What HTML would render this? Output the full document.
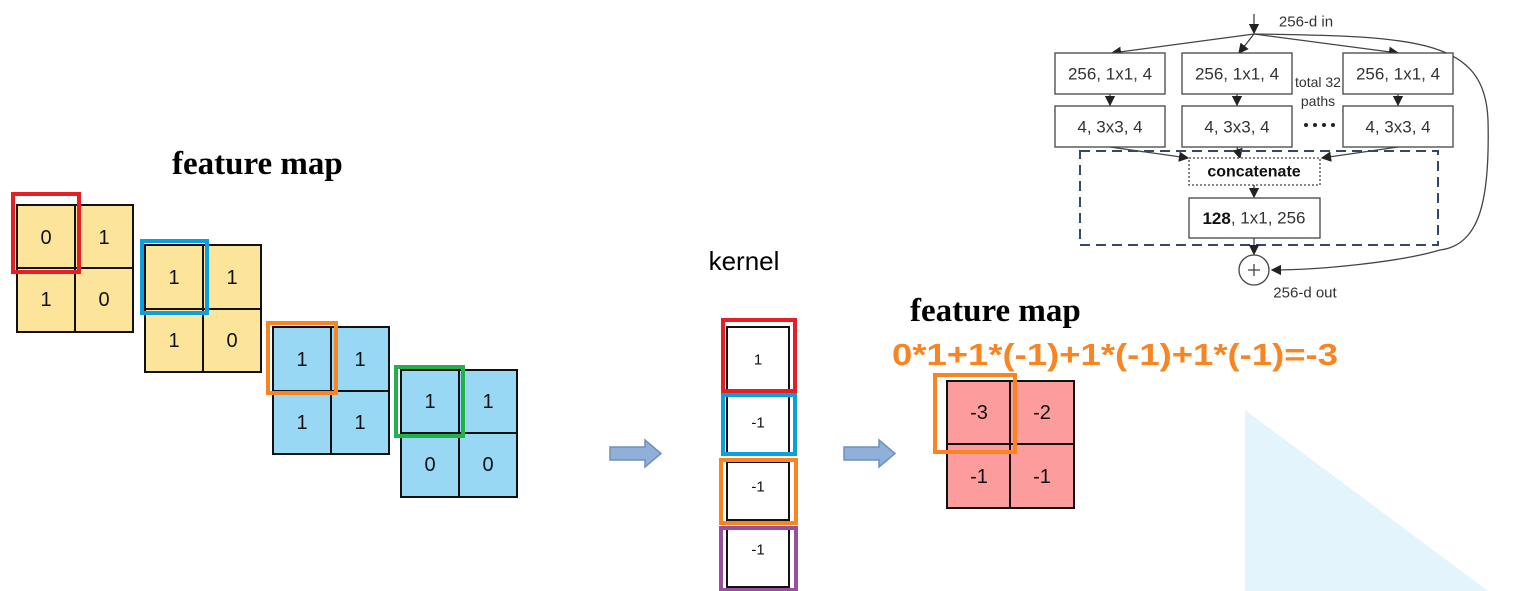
<!DOCTYPE html>
<html><head><meta charset="utf-8"><style>
html,body{margin:0;padding:0;background:#fff}
svg{display:block}
.n{font-family:"Liberation Sans",sans-serif;font-size:20px;fill:#111;text-anchor:middle;dominant-baseline:central}
.k{font-family:"Liberation Sans",sans-serif;font-size:15px;fill:#111;text-anchor:middle;dominant-baseline:central}
.t{font-family:"Liberation Sans",sans-serif;fill:#333;text-anchor:middle;dominant-baseline:central}
.fm{font-family:"Liberation Serif",serif;font-weight:bold;font-size:33px;fill:#000}
</style></head><body>
<svg width="1530" height="591" viewBox="0 0 1530 591" xmlns="http://www.w3.org/2000/svg">
<defs><marker id="ah" markerWidth="8" markerHeight="8" refX="7" refY="4" orient="auto"><path d="M0,0 L8,4 L0,8 z" fill="#222"/></marker></defs>
<polygon points="1245,410 1245,591 1488,591" fill="#e3f4fc"/>

<text class="fm" x="172" y="174">feature map</text>

<g>
<rect x="17" y="205" width="116" height="127" fill="#fde49b" stroke="#111" stroke-width="2"/>
<line x1="75" y1="205" x2="75" y2="332" stroke="#111" stroke-width="2"/><line x1="17" y1="268" x2="133" y2="268" stroke="#111" stroke-width="2"/>
<text class="n" x="46" y="238">0</text><text class="n" x="104" y="238">1</text><text class="n" x="46" y="300">1</text><text class="n" x="104" y="300">0</text>
<rect x="13" y="194" width="66" height="78" fill="none" stroke="#e81e25" stroke-width="4"/>
</g>
<g>
<rect x="145" y="245" width="116" height="127" fill="#fde49b" stroke="#111" stroke-width="2"/>
<line x1="203" y1="245" x2="203" y2="372" stroke="#111" stroke-width="2"/><line x1="145" y1="309" x2="261" y2="309" stroke="#111" stroke-width="2"/>
<text class="n" x="174" y="278">1</text><text class="n" x="232" y="278">1</text><text class="n" x="174" y="341">1</text><text class="n" x="232" y="341">0</text>
<rect x="142" y="241" width="65" height="72" fill="none" stroke="#0aa0e0" stroke-width="4"/>
</g>
<g>
<rect x="273" y="327" width="116" height="127" fill="#99d8f5" stroke="#111" stroke-width="2"/>
<line x1="331" y1="327" x2="331" y2="454" stroke="#111" stroke-width="2"/><line x1="273" y1="391" x2="389" y2="391" stroke="#111" stroke-width="2"/>
<text class="n" x="302" y="360">1</text><text class="n" x="360" y="360">1</text><text class="n" x="302" y="423">1</text><text class="n" x="360" y="423">1</text>
<rect x="268" y="323" width="68" height="70" fill="none" stroke="#f98522" stroke-width="4"/>
</g>
<g>
<rect x="401" y="370" width="116" height="127" fill="#99d8f5" stroke="#111" stroke-width="2"/>
<line x1="459" y1="370" x2="459" y2="497" stroke="#111" stroke-width="2"/><line x1="401" y1="433" x2="517" y2="433" stroke="#111" stroke-width="2"/>
<text class="n" x="430" y="402">1</text><text class="n" x="488" y="402">1</text><text class="n" x="430" y="465">0</text><text class="n" x="488" y="465">0</text>
<rect x="396" y="367" width="67" height="69" fill="none" stroke="#22b04b" stroke-width="4"/>
</g>

<g>
<path d="M610,447 H645 V440 L661,453.5 L645,467 V460 H610 Z" fill="#8fb0d8" stroke="#6f8fbd" stroke-width="1.5"/>
</g>

<text x="744" y="270" font-family="Liberation Sans,sans-serif" font-size="26" fill="#000" text-anchor="middle">kernel</text>
<g>
<rect x="727" y="327" width="62" height="63" fill="#fff" stroke="#111" stroke-width="2"/>
<rect x="727" y="396" width="62" height="57" fill="#fff" stroke="#111" stroke-width="2"/>
<rect x="727" y="462" width="62" height="58" fill="#fff" stroke="#111" stroke-width="2"/>
<rect x="727" y="528" width="62" height="59" fill="#fff" stroke="#111" stroke-width="2"/>
<text class="k" x="758" y="360">1</text><text class="k" x="758" y="423">-1</text><text class="k" x="758" y="487">-1</text><text class="k" x="758" y="550">-1</text>
<rect x="723" y="320" width="72" height="71" fill="none" stroke="#e81e25" stroke-width="4"/>
<rect x="723" y="395" width="72" height="59" fill="none" stroke="#0aa0e0" stroke-width="4"/>
<rect x="721" y="460" width="75" height="63" fill="none" stroke="#f98522" stroke-width="4"/>
<rect x="721" y="528" width="75" height="62" fill="none" stroke="#9b4ea0" stroke-width="4"/>
</g>

<g>
<path d="M844,447 H879 V440 L895,453.5 L879,467 V460 H844 Z" fill="#8fb0d8" stroke="#6f8fbd" stroke-width="1.5"/>
</g>

<text class="fm" x="910" y="321">feature map</text>
<text x="892" y="365" font-family="Liberation Sans,sans-serif" font-weight="bold" font-size="31" fill="#f98522" textLength="446" lengthAdjust="spacingAndGlyphs">0*1+1*(-1)+1*(-1)+1*(-1)=-3</text>
<g>
<rect x="947" y="381" width="127" height="127" fill="#fc9c9c" stroke="#111" stroke-width="2"/>
<line x1="1010" y1="381" x2="1010" y2="508" stroke="#111" stroke-width="2"/><line x1="947" y1="444" x2="1074" y2="444" stroke="#111" stroke-width="2"/>
<text class="n" x="979" y="413">-3</text><text class="n" x="1042" y="413">-2</text><text class="n" x="979" y="477">-1</text><text class="n" x="1042" y="477">-1</text>
<rect x="935" y="375" width="80" height="77" fill="none" stroke="#f98522" stroke-width="4"/>
</g>

<g stroke="#444" stroke-width="1.3" fill="none">
<line x1="1254" y1="14" x2="1254" y2="33" marker-end="url(#ah)"/>
<line x1="1254" y1="34" x2="1112" y2="53" marker-end="url(#ah)"/>
<line x1="1254" y1="34" x2="1239" y2="53" marker-end="url(#ah)"/>
<line x1="1254" y1="34" x2="1398" y2="53" marker-end="url(#ah)"/>
<path d="M1254,34 C1420,36 1485,40 1488,120 C1490,200 1480,245 1440,250 C1400,262 1320,270 1272,270" marker-end="url(#ah)"/>
<rect x="1055" y="53" width="110" height="41" fill="#fff"/>
<rect x="1182" y="53" width="110" height="41" fill="#fff"/>
<rect x="1343" y="53" width="110" height="41" fill="#fff"/>
<rect x="1055" y="106" width="110" height="41" fill="#fff"/>
<rect x="1182" y="106" width="110" height="41" fill="#fff"/>
<rect x="1343" y="106" width="110" height="41" fill="#fff"/>
<line x1="1110" y1="94" x2="1110" y2="105" marker-end="url(#ah)"/>
<line x1="1237" y1="94" x2="1237" y2="105" marker-end="url(#ah)"/>
<line x1="1398" y1="94" x2="1398" y2="105" marker-end="url(#ah)"/>
<line x1="1110" y1="147" x2="1188" y2="158" marker-end="url(#ah)"/>
<line x1="1237" y1="147" x2="1240" y2="158" marker-end="url(#ah)"/>
<line x1="1398" y1="147" x2="1322" y2="158" marker-end="url(#ah)"/>
<rect x="1080" y="151" width="358" height="94" stroke="#34486a" stroke-width="2" stroke-dasharray="10,6"/>
<rect x="1189" y="158" width="131" height="27" stroke-dasharray="2,2" fill="#fff"/>
<line x1="1254" y1="185" x2="1254" y2="197" marker-end="url(#ah)"/>
<rect x="1189" y="198" width="131" height="40" fill="#fff"/>
<line x1="1254" y1="238" x2="1254" y2="254" marker-end="url(#ah)"/>
<circle cx="1254" cy="270" r="15" fill="#fff"/>
<line x1="1248" y1="270" x2="1260" y2="270"/><line x1="1254" y1="264" x2="1254" y2="276"/>
</g>
<g>
<text class="t" x="1306" y="22" style="font-size:15px">256-d in</text>
<text class="t" x="1110" y="74" style="font-size:17px">256, 1x1, 4</text>
<text class="t" x="1237" y="74" style="font-size:17px">256, 1x1, 4</text>
<text class="t" x="1398" y="74" style="font-size:17px">256, 1x1, 4</text>
<text class="t" x="1110" y="127" style="font-size:17px">4, 3x3, 4</text>
<text class="t" x="1237" y="127" style="font-size:17px">4, 3x3, 4</text>
<text class="t" x="1398" y="127" style="font-size:17px">4, 3x3, 4</text>
<text class="t" x="1318" y="82" style="font-size:14px">total 32</text>
<text class="t" x="1318" y="101" style="font-size:14px">paths</text>
<g fill="#222"><circle cx="1306" cy="125" r="2"/><circle cx="1315" cy="125" r="2"/><circle cx="1324" cy="125" r="2"/><circle cx="1333" cy="125" r="2"/></g>
<text class="t" x="1254" y="172" font-weight="bold" style="font-size:16px;fill:#111">concatenate</text>
<text class="t" x="1254" y="218" style="font-size:17px"><tspan font-weight="bold" style="fill:#111">128</tspan>, 1x1, 256</text>
<text class="t" x="1305" y="293" style="font-size:15px">256-d out</text>
</g>
</svg>
</body></html>
